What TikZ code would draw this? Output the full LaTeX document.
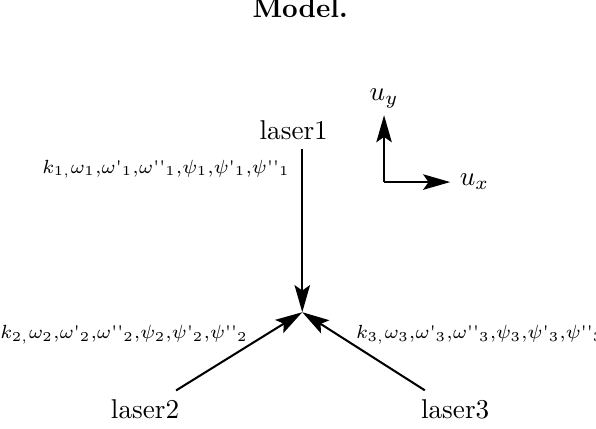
\documentclass[tikz,border=0pt]{standalone}
\usetikzlibrary{arrows.meta, positioning, calc}
\tikzset{
  arr/.style={-{Stealth[length=3.5mm, width=2mm, inset=0.7mm]}, line width=0.75pt},
  lbl/.style={inner sep=0pt, font=\fontsize{6.7}{8}\selectfont},
}
\newcommand{\qs}{\makebox[2.2pt]{\textquotesingle}}
\newcommand{\qqs}{\qs\qs}
\newcommand{\cm}{{,}}

\begin{document}
\begin{tikzpicture}[scale=0.919]
    \useasboundingbox (0,0) rectangle (8.38,-6.03);
    \node[anchor=base, font=\bfseries] (title) at (4.22,-0.24) {Model.};
    \coordinate (c) at (4.25,-4.39);
    \node (laser1) at (4.13,-1.83) {laser1};
    \node (laser2) at (2.04,-5.76) {laser2};
    \node (laser3) at (6.40,-5.76) {laser3};
    \draw[arr] (laser1.south -| c) -- (c);
    \draw[arr] (laser2) -- (c);
    \draw[arr] (laser3) -- (c);
    \node[lbl, anchor=east] (p1) at (4.08,-2.38)
      {$k_{1,}\omega_1\cm\omega\qs_1\cm\omega\qqs_1\cm\psi_1\cm\psi\qs_1\cm\psi\qqs_1$};
    \node[lbl, anchor=east] (p2) at (3.49,-4.71)
      {$k_{2,}\omega_2\cm\omega\qs_2\cm\omega\qqs_2\cm\psi_2\cm\psi\qs_2\cm\psi\qqs_2$};
    \node[lbl, anchor=west] (p3) at (5.00,-4.71)
      {$k_{3,}\omega_3\cm\omega\qs_3\cm\omega\qqs_3\cm\psi_3\cm\psi\qs_3\cm\psi\qqs_3$};
    % axes
    \coordinate (o) at (5.40,-2.56);
    \coordinate (ey) at (5.40,-1.62);
    \coordinate (ex) at (6.33,-2.56);
    \draw[arr] (o) -- (ey);
    \draw[arr] (o) -- (ex);
    \node[above=-1pt of ey] (uy) {$u_y$};
    \node[right=0pt of ex] (ux) {$u_x$};
\end{tikzpicture}
\end{document}
